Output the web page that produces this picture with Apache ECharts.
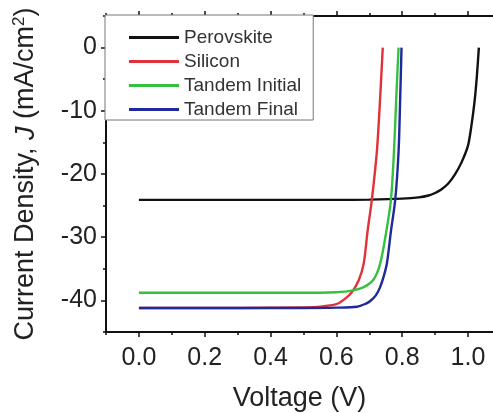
<!DOCTYPE html>
<html>
<head>
<meta charset="utf-8">
<script src="https://cdn.jsdelivr.net/npm/echarts@6/dist/echarts.min.js"></script>
<style>html,body{margin:0;padding:0;background:#fff;}#c{width:493px;height:413px;}</style>
</head>
<body>
<div id="c"></div>
<script>
var seriesNames = ['Perovskite', 'Silicon', 'Tandem Initial', 'Tandem Final'];
var perovskite = [[0,-24.1],[0.2,-24.1],[0.4,-24.1],[0.6,-24.1],[0.7,-24.05],[0.8,-23.9],[0.85,-23.7],[0.88,-23.4],[0.9,-23.0],[0.92,-22.4],[0.94,-21.5],[0.96,-20.1],[0.98,-18.2],[1.0,-15.5],[1.01,-12.5],[1.02,-8.5],[1.027,-4.5],[1.033,0]];
var silicon = [[0,-41.2],[0.3,-41.2],[0.5,-41.1],[0.55,-41.0],[0.6,-40.6],[0.625,-39.8],[0.647,-38.7],[0.668,-36.8],[0.683,-34.2],[0.695,-29],[0.708,-24],[0.723,-16.5],[0.732,-9],[0.741,0]];
var tandemInitial = [[0,-38.8],[0.5,-38.8],[0.6,-38.7],[0.642,-38.5],[0.683,-37.9],[0.713,-36.7],[0.733,-34.2],[0.752,-29],[0.766,-24],[0.775,-16.5],[0.782,-8],[0.789,0]];
var tandemFinal = [[0,-41.2],[0.5,-41.2],[0.6,-41.15],[0.663,-41.0],[0.69,-40.5],[0.703,-40.1],[0.72,-39.2],[0.733,-37.9],[0.745,-36],[0.754,-34],[0.766,-29],[0.779,-24],[0.789,-16.5],[0.794,-8],[0.798,0]];
var xMajorTicks = [0, 0.2, 0.4, 0.6, 0.8, 1.0];
var xMinorTicks = [-0.1, 0.1, 0.3, 0.5, 0.7, 0.9];
var yMajorTicks = [-40, -30, -20, -10, 0];
var yMinorTicks = [-45, -35, -25, -15, -5, 5];
var colors = ['#111111', '#e03238', '#35c040', '#1e2a9c'];
var seriesData = [perovskite, silicon, tandemInitial, tandemFinal];

var FONT = 'Liberation Sans, Arial, sans-serif';
var chart = echarts.init(document.getElementById('c'));

function xAx(pos, ticks, len, showLabel, showLine) {
  return {
    type: 'value', position: pos, min: -0.1, max: 1.076,
    axisLine: {show: showLine, onZero: false, lineStyle: {color: '#111', width: 2}},
    axisTick: {show: true, customValues: ticks, length: len, inside: false, lineStyle: {color: '#111', width: 1.5}},
    axisLabel: {show: showLabel, customValues: ticks, color: '#222', fontSize: 25, fontFamily: FONT, margin: 14,
      formatter: function (v) { return v.toFixed(1); }},
    splitLine: {show: false}
  };
}
function yAx(ticks, len, showLabel, showLine) {
  return {
    type: 'value', position: 'left', min: -45, max: 5,
    axisLine: {show: showLine, onZero: false, lineStyle: {color: '#111', width: 2}},
    axisTick: {show: true, customValues: ticks, length: len, inside: false, lineStyle: {color: '#111', width: 1.5}},
    axisLabel: {show: showLabel, customValues: ticks, color: '#222', fontSize: 25, fontFamily: FONT, margin: 9},
    splitLine: {show: false}
  };
}

var xAxes = [xAx('bottom', xMajorTicks, 5, true, true), xAx('bottom', xMinorTicks, 3, false, false),
             xAx('top', xMajorTicks, 5, true, true), xAx('top', xMinorTicks, 3, true, false)];
xAxes[2].axisLabel.color = 'rgba(0,0,0,0)';
xAxes[2].axisLabel.fontSize = 6;
xAxes[3].axisLabel.color = 'rgba(0,0,0,0)';
xAxes[3].axisLabel.fontSize = 6;
xAxes[0].name = 'Voltage (V)';
xAxes[0].nameLocation = 'middle';
xAxes[0].nameGap = 53;
xAxes[0].nameTextStyle = {color: '#222', fontSize: 27, fontFamily: FONT};

var yAxes = [yAx(yMajorTicks, 5, true, true), yAx(yMinorTicks, 3, false, false)];
yAxes[0].name = '{a|Current Density, }{i|J}{a| (mA/cm}{s|2}{a|)}';
yAxes[0].nameLocation = 'middle';
yAxes[0].nameGap = 65;
yAxes[0].nameTextStyle = {color: '#222', fontSize: 27, fontFamily: FONT,
  rich: {a: {fontSize: 27, fontFamily: FONT, color: '#222'},
         i: {fontSize: 27, fontFamily: FONT, fontStyle: 'italic', color: '#222'},
         s: {fontSize: 17, fontFamily: FONT, color: '#222', padding: [0, 0, 13, 0]}}};

var series = seriesNames.map(function (n, i) {
  return {
    name: n, type: 'line', data: seriesData[i], xAxisIndex: 0, yAxisIndex: 0,
    showSymbol: false, symbol: 'none', smooth: 0.3,
    lineStyle: {color: colors[i], width: 2.4}, itemStyle: {color: colors[i]}, z: 2 + i
  };
});

chart.setOption({
  animation: false,
  backgroundColor: '#fff',
  grid: {left: 106, top: 16, bottom: 81, right: 0, containLabel: false, outerBoundsMode: 'none'},
  legend: {
    show: true, orient: 'vertical', left: 105, top: 15, data: seriesNames,
    itemWidth: 50, itemHeight: 3, itemGap: 5, padding: [13, 12, 1, 24],
    backgroundColor: '#fff', borderColor: '#777', borderWidth: 1,
    icon: 'rect',
    textStyle: {color: '#333', fontSize: 19, fontFamily: FONT, lineHeight: 16}
  },
  xAxis: xAxes,
  yAxis: yAxes,
  series: series
});
</script>
</body>
</html>
